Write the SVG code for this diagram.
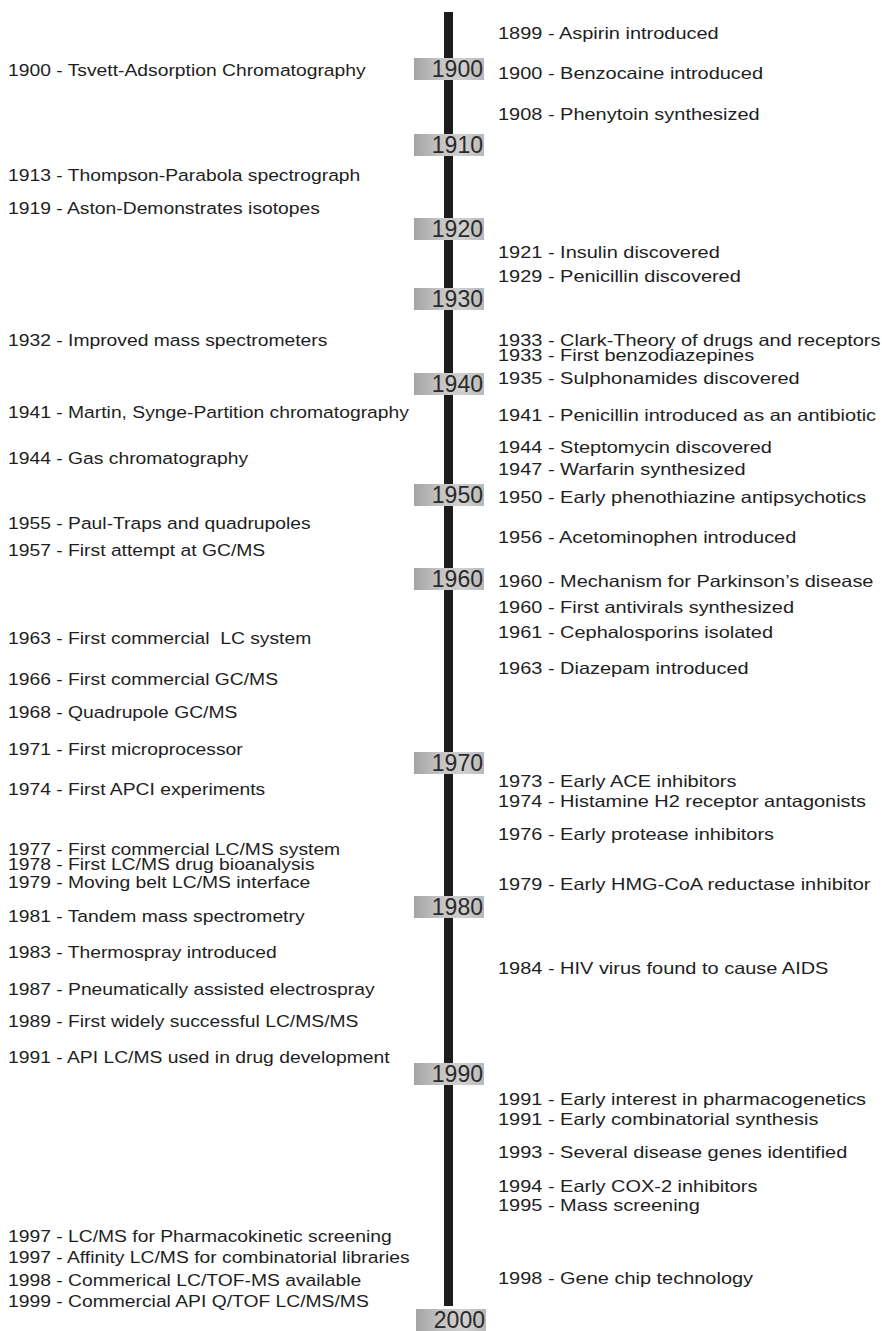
<svg xmlns="http://www.w3.org/2000/svg" width="882" height="1331" viewBox="0 0 882 1331">
  <defs>
    <linearGradient id="tagFill" x1="0" y1="0" x2="1" y2="0">
      <stop offset="0" stop-color="#a4a4a4"/>
      <stop offset="0.35" stop-color="#c2c2c2"/>
      <stop offset="0.7" stop-color="#d0d0d0"/>
      <stop offset="1" stop-color="#b8b8b8"/>
    </linearGradient>
    <style>
      .ev { font-family: "Liberation Sans", Arial, sans-serif; font-size: 16.5px; fill: #1e1e1e; }
      .tag rect { fill: url(#tagFill); }
      .tag text { font-family: "Liberation Sans", Arial, sans-serif; font-size: 23px; fill: #2a2a2a; text-anchor: end; }
    </style>
  </defs>
  <rect width="882" height="1331" fill="#ffffff"/>

  <!-- timeline axis -->
  <g id="connectors">
    <rect x="444" y="12" width="9" height="1294" fill="#1c1c1c"/>
  </g>

  <!-- decade tags -->
  <g id="decades">
    <g id="d1900" class="tag"><rect x="414" y="58" width="70" height="22"/><text x="483" y="77">1900</text></g>
    <g id="d1910" class="tag"><rect x="414" y="134" width="70" height="22"/><text x="483" y="153">1910</text></g>
    <g id="d1920" class="tag"><rect x="414" y="218" width="70" height="22"/><text x="483" y="237">1920</text></g>
    <g id="d1930" class="tag"><rect x="414" y="288" width="70" height="22"/><text x="483" y="307">1930</text></g>
    <g id="d1940" class="tag"><rect x="414" y="373" width="70" height="22"/><text x="483" y="392">1940</text></g>
    <g id="d1950" class="tag"><rect x="414" y="484" width="70" height="22"/><text x="483" y="503">1950</text></g>
    <g id="d1960" class="tag"><rect x="414" y="568" width="70" height="22"/><text x="483" y="587">1960</text></g>
    <g id="d1970" class="tag"><rect x="414" y="752" width="70" height="22"/><text x="483" y="771">1970</text></g>
    <g id="d1980" class="tag"><rect x="414" y="896" width="70" height="22"/><text x="483" y="915">1980</text></g>
    <g id="d1990" class="tag"><rect x="414" y="1063" width="70" height="22"/><text x="483" y="1082">1990</text></g>
    <g id="d2000" class="tag"><rect x="416" y="1309" width="70" height="22"/><text x="485" y="1328">2000</text></g>
  </g>

  <!-- analytical events, left side (type set slightly wide) -->
  <g id="left-events" transform="translate(8 0) scale(1.17 1)">
    <text id="l1900" class="ev" x="0" y="76">1900 - Tsvett-Adsorption Chromatography</text>
    <text id="l1913" class="ev" x="0" y="181">1913 - Thompson-Parabola spectrograph</text>
    <text id="l1919" class="ev" x="0" y="214">1919 - Aston-Demonstrates isotopes</text>
    <text id="l1932" class="ev" x="0" y="346">1932 - Improved mass spectrometers</text>
    <text id="l1941" class="ev" x="0" y="418">1941 - Martin, Synge-Partition chromatography</text>
    <text id="l1944" class="ev" x="0" y="464">1944 - Gas chromatography</text>
    <text id="l1955" class="ev" x="0" y="529">1955 - Paul-Traps and quadrupoles</text>
    <text id="l1957" class="ev" x="0" y="556">1957 - First attempt at GC/MS</text>
    <text id="l1963" class="ev" x="0" y="644" xml:space="preserve">1963 - First commercial  LC system</text>
    <text id="l1966" class="ev" x="0" y="685">1966 - First commercial GC/MS</text>
    <text id="l1968" class="ev" x="0" y="718">1968 - Quadrupole GC/MS</text>
    <text id="l1971" class="ev" x="0" y="755">1971 - First microprocessor</text>
    <text id="l1974" class="ev" x="0" y="795">1974 - First APCI experiments</text>
    <text id="l1977" class="ev" x="0" y="855">1977 - First commercial LC/MS system</text>
    <text id="l1978" class="ev" x="0" y="870">1978 - First LC/MS drug bioanalysis</text>
    <text id="l1979" class="ev" x="0" y="888">1979 - Moving belt LC/MS interface</text>
    <text id="l1981" class="ev" x="0" y="922">1981 - Tandem mass spectrometry</text>
    <text id="l1983" class="ev" x="0" y="958">1983 - Thermospray introduced</text>
    <text id="l1987" class="ev" x="0" y="995">1987 - Pneumatically assisted electrospray</text>
    <text id="l1989" class="ev" x="0" y="1027">1989 - First widely successful LC/MS/MS</text>
    <text id="l1991" class="ev" x="0" y="1063">1991 - API LC/MS used in drug development</text>
    <text id="l1997a" class="ev" x="0" y="1242">1997 - LC/MS for Pharmacokinetic screening</text>
    <text id="l1997b" class="ev" x="0" y="1263">1997 - Affinity LC/MS for combinatorial libraries</text>
    <text id="l1998" class="ev" x="0" y="1286">1998 - Commerical LC/TOF-MS available</text>
    <text id="l1999" class="ev" x="0" y="1307">1999 - Commercial API Q/TOF LC/MS/MS</text>
  </g>

  <!-- pharmaceutical events, right side (type set slightly wide) -->
  <g id="right-events" transform="translate(498 0) scale(1.21 1)">
    <text id="r1899" class="ev" x="0" y="39">1899 - Aspirin introduced</text>
    <text id="r1900" class="ev" x="0" y="79">1900 - Benzocaine introduced</text>
    <text id="r1908" class="ev" x="0" y="120">1908 - Phenytoin synthesized</text>
    <text id="r1921" class="ev" x="0" y="258">1921 - Insulin discovered</text>
    <text id="r1929" class="ev" x="0" y="282">1929 - Penicillin discovered</text>
    <text id="r1933a" class="ev" x="0" y="346">1933 - Clark-Theory of drugs and receptors</text>
    <text id="r1933b" class="ev" x="0" y="361">1933 - First benzodiazepines</text>
    <text id="r1935" class="ev" x="0" y="384">1935 - Sulphonamides discovered</text>
    <text id="r1941" class="ev" x="0" y="421">1941 - Penicillin introduced as an antibiotic</text>
    <text id="r1944" class="ev" x="0" y="453">1944 - Steptomycin discovered</text>
    <text id="r1947" class="ev" x="0" y="475">1947 - Warfarin synthesized</text>
    <text id="r1950" class="ev" x="0" y="503">1950 - Early phenothiazine antipsychotics</text>
    <text id="r1956" class="ev" x="0" y="543">1956 - Acetominophen introduced</text>
    <text id="r1960a" class="ev" x="0" y="587">1960 - Mechanism for Parkinson’s disease</text>
    <text id="r1960b" class="ev" x="0" y="613">1960 - First antivirals synthesized</text>
    <text id="r1961" class="ev" x="0" y="638">1961 - Cephalosporins isolated</text>
    <text id="r1963" class="ev" x="0" y="674">1963 - Diazepam introduced</text>
    <text id="r1973" class="ev" x="0" y="787">1973 - Early ACE inhibitors</text>
    <text id="r1974" class="ev" x="0" y="807">1974 - Histamine H2 receptor antagonists</text>
    <text id="r1976" class="ev" x="0" y="840">1976 - Early protease inhibitors</text>
    <text id="r1979" class="ev" x="0" y="890">1979 - Early HMG-CoA reductase inhibitor</text>
    <text id="r1984" class="ev" x="0" y="974">1984 - HIV virus found to cause AIDS</text>
    <text id="r1991a" class="ev" x="0" y="1105">1991 - Early interest in pharmacogenetics</text>
    <text id="r1991b" class="ev" x="0" y="1125">1991 - Early combinatorial synthesis</text>
    <text id="r1993" class="ev" x="0" y="1158">1993 - Several disease genes identified</text>
    <text id="r1994" class="ev" x="0" y="1192">1994 - Early COX-2 inhibitors</text>
    <text id="r1995" class="ev" x="0" y="1211">1995 - Mass screening</text>
    <text id="r1998" class="ev" x="0" y="1284">1998 - Gene chip technology</text>
  </g>
</svg>
